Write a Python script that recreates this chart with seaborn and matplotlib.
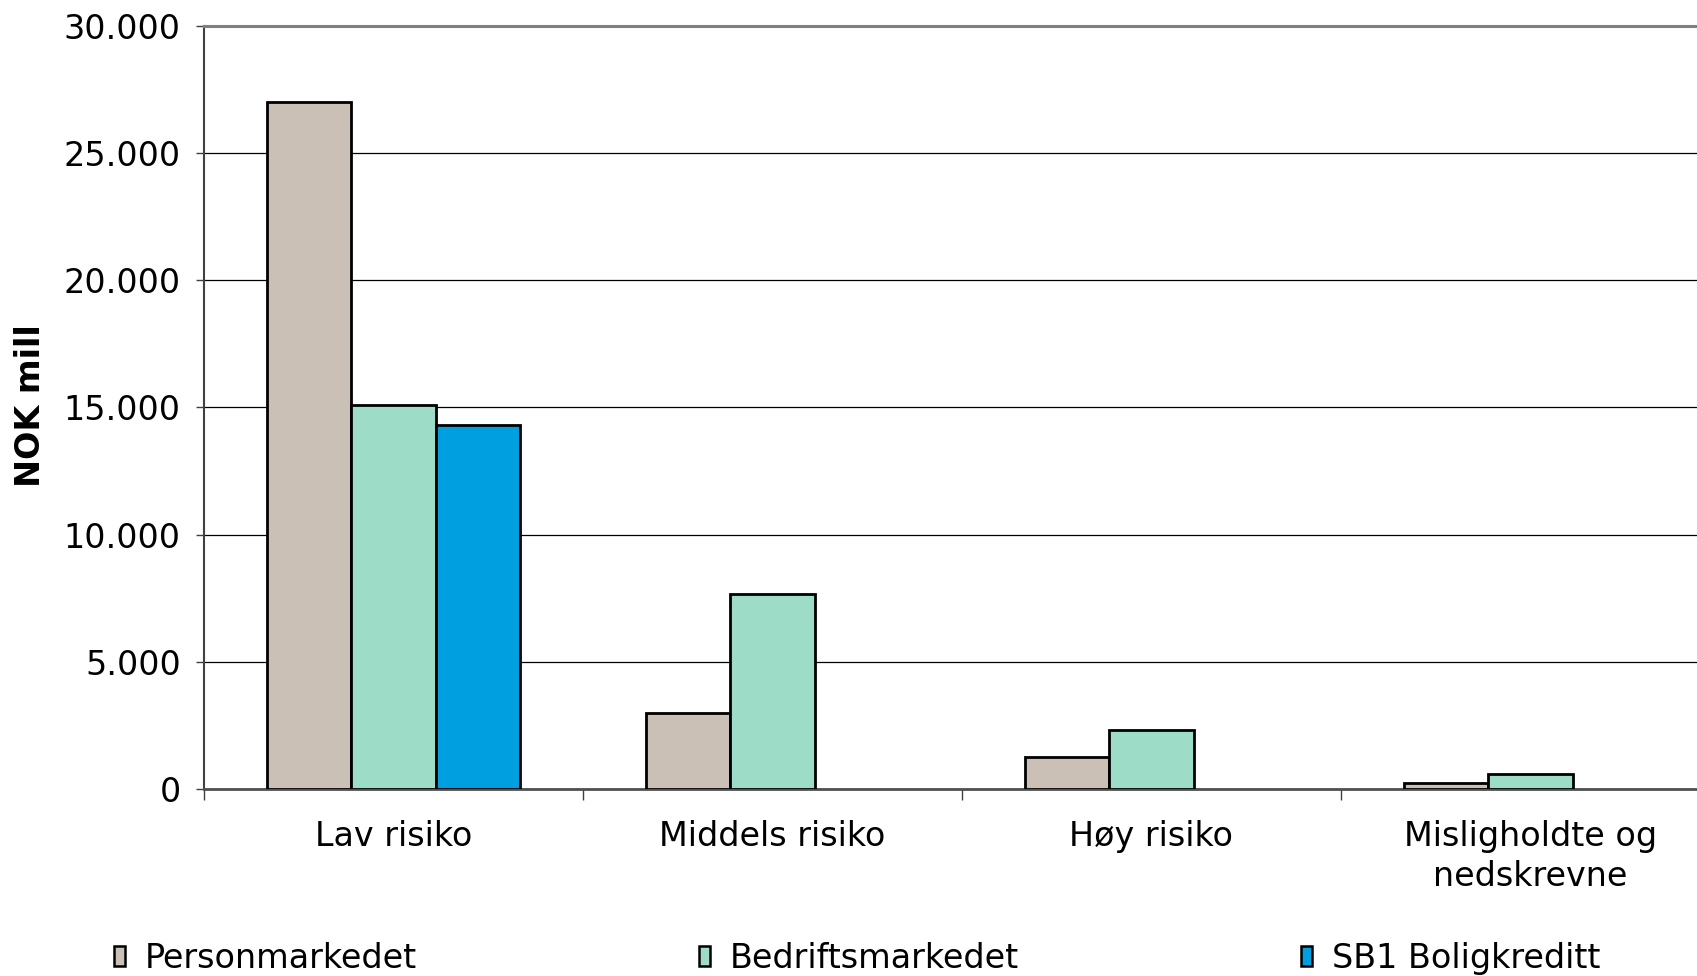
import pandas as pd
import matplotlib.pyplot as plt
import matplotlib.ticker as mticker
from matplotlib.patches import Patch
import seaborn as sns

# Data (NOK mill)
kategorier = ['Lav risiko', 'Middels risiko', 'Høy risiko', 'Misligholdte og\nnedskrevne']
serier = ['Personmarkedet', 'Bedriftsmarkedet', 'SB1 Boligkreditt']
personmarkedet = [27000, 3000, 1250, 250]
bedriftsmarkedet = [15100, 7650, 2300, 580]
boligkreditt = [14300]  # only in 'Lav risiko'
farger = ['#CBC0B6', '#9DDDC7', '#009FDF']

rows = []
for k, v in zip(kategorier, personmarkedet):
    rows.append({'kategori': k, 'serie': serier[0], 'verdi': v})
for k, v in zip(kategorier, bedriftsmarkedet):
    rows.append({'kategori': k, 'serie': serier[1], 'verdi': v})
for k, v in zip(kategorier, boligkreditt):
    rows.append({'kategori': k, 'serie': serier[2], 'verdi': v})
df = pd.DataFrame(rows)

sns.set_theme(style='white')
plt.rcParams['font.family'] = ['DejaVu Sans']
plt.rcParams['text.color'] = 'black'
plt.rcParams['axes.labelcolor'] = 'black'
plt.rcParams['xtick.labelcolor'] = 'black'
plt.rcParams['ytick.labelcolor'] = 'black'
fs = 24

fig = plt.figure(figsize=(16.97, 9.76), dpi=100)
ax = fig.add_axes([0.1202, 0.1916, 0.8933, 0.7818])

sns.barplot(data=df, x='kategori', y='verdi', hue='serie', order=kategorier,
            hue_order=serier, palette=farger, width=0.668, edgecolor='black',
            linewidth=2.0, saturation=1, legend=False, ax=ax, zorder=3)

ax.set_ylim(0, 30000)
ax.set_xlim(-0.5, 3.5)
ax.yaxis.set_major_locator(mticker.MultipleLocator(5000))
ax.yaxis.set_major_formatter(mticker.FuncFormatter(lambda v, p: f'{v:,.0f}'.replace(',', '.')))
ax.yaxis.grid(True, color='black', linewidth=0.9, zorder=0)
ax.set_axisbelow(True)

# spines
ax.spines['right'].set_visible(False)
ax.spines['top'].set_color('#808080')
ax.spines['top'].set_linewidth(2.2)
ax.spines['left'].set_color('#404040')
ax.spines['left'].set_linewidth(1.5)
ax.spines['bottom'].set_color('#505050')
ax.spines['bottom'].set_linewidth(2.0)

# ticks: y outward, x ticks at category boundaries
ax.tick_params(axis='y', which='major', left=True, length=6, width=1.0, color='#404040',
               direction='out', pad=10.8, labelsize=fs)
ax.set_xticks(range(len(kategorier)))
ax.set_xticklabels(kategorier, fontsize=fs, linespacing=1.3)
ax.set_xticks([-0.5, 0.5, 1.5, 2.5, 3.5], minor=True)
ax.tick_params(axis='x', which='major', length=0, pad=22)
ax.tick_params(axis='x', which='minor', bottom=True, length=8, width=1.0, color='#404040',
               direction='out')

ax.set_xlabel('')
ax.set_ylabel('NOK mill', fontsize=fs, fontweight='bold')
ax.yaxis.set_label_coords(-0.1035, 0.502)

handles = [Patch(facecolor=c, edgecolor='black', linewidth=1.8) for c in farger]
fig.legend(handles, serier, loc='center left', bbox_to_anchor=(0.0672, 0.018),
           ncol=3, frameon=False, fontsize=fs, handlelength=0.33, handleheight=0.51,
           handletextpad=0.6, columnspacing=8.45, borderpad=0, borderaxespad=0)

fig.savefig('out.png', dpi=100)
